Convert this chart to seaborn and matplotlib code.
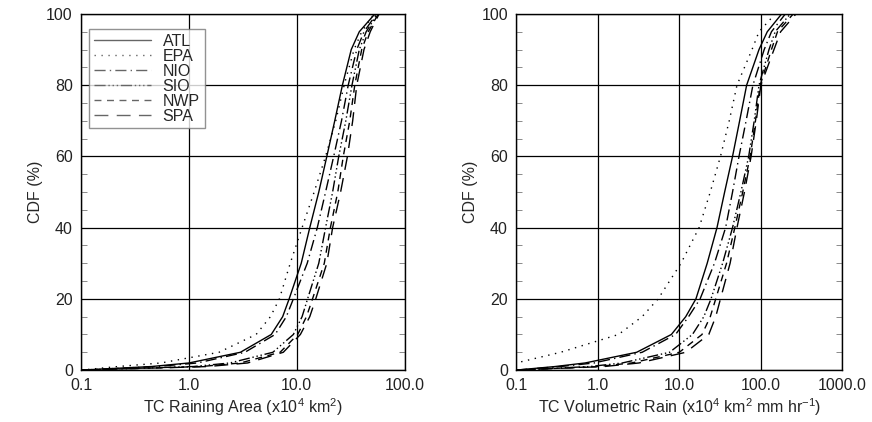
import matplotlib
matplotlib.use("Agg")
import matplotlib.pyplot as plt
from matplotlib.ticker import MultipleLocator
import seaborn as sns
import pandas as pd

# basins and line styles
basins = ["ATL", "EPA", "NIO", "SIO", "NWP", "SPA"]
dash_styles = {"ATL": "", "EPA": (1, 4), "NIO": (8, 3, 1, 3),
               "SIO": (8, 2, 1, 2, 1, 2, 1, 2), "NWP": (5, 4), "SPA": (10, 6)}

# CDF levels (%) and x-values
cdf_levels = [0, 1, 2, 5, 10, 15, 20, 30, 40, 50, 60, 70, 80, 90, 95, 100, 100]

# TC raining area (x10^4 km^2)
area_atl = [0.1, 0.45, 1.0, 3.0, 5.8, 7.4, 8.5, 11.0, 13.2, 16.0, 19.0, 22.5, 26.5, 32.0, 38.0, 53.0, 68.0]
area_epa = [0.1, 0.22, 0.55, 1.9, 4.2, 5.7, 6.9, 8.7, 11.2, 14.5, 18.5, 23.0, 27.5, 34.0, 40.0, 52.0, 68.0]
area_nio = [0.1, 0.5, 1.2, 3.3, 6.3, 8.0, 9.3, 12.5, 15.5, 18.5, 22.0, 26.0, 30.0, 36.0, 42.0, 55.0, 68.0]
area_sio = [0.1, 1.1, 2.4, 6.0, 9.3, 11.2, 12.6, 16.0, 18.5, 21.5, 24.5, 28.5, 32.5, 38.0, 44.0, 56.0, 68.0]
area_nwp = [0.1, 1.3, 3.0, 7.0, 10.2, 12.3, 14.0, 18.0, 20.5, 24.0, 27.0, 31.0, 34.5, 40.0, 46.0, 57.0, 68.0]
area_spa = [0.1, 1.5, 3.5, 7.5, 10.8, 13.2, 15.0, 19.0, 21.5, 25.5, 29.5, 33.0, 36.0, 42.0, 48.0, 58.0, 68.0]

# TC volumetric rain (x10^4 km^2 mm/hr)
vol_atl = [0.1, 0.3, 0.7, 3.0, 8.0, 12, 16, 22, 29, 36, 45, 55, 67, 95, 120, 180, 400]
vol_epa = [0.02, 0.05, 0.1, 0.35, 1.8, 3.5, 5.5, 10.5, 17.5, 24, 32, 41, 51, 78, 95, 150, 400]
vol_nio = [0.1, 0.35, 0.9, 3.5, 9.0, 13, 18, 27, 37, 45, 54, 66, 80, 110, 135, 200, 400]
vol_sio = [0.1, 0.8, 2.0, 7.6, 14.5, 20, 24.5, 34, 45, 57, 71, 83, 95, 126, 150, 230, 400]
vol_nwp = [0.1, 1.0, 2.6, 10, 19, 24, 28, 38, 48, 60, 74, 86, 98, 135, 160, 250, 400]
vol_spa = [0.1, 1.2, 3.2, 12, 23, 28, 32, 42, 51, 63, 76, 88, 100, 145, 175, 270, 400]

area_ticks = [0.1, 1.0, 10.0, 100.0]
area_ticklabels = ["0.1", "1.0", "10.0", "100.0"]
vol_ticks = [0.1, 1.0, 10.0, 100.0, 1000.0]
vol_ticklabels = ["0.1", "1.0", "10.0", "100.0", "1000.0"]


def make_df(series):
    rows = []
    for name, xs in zip(basins, series):
        for x, c in zip(xs, cdf_levels):
            rows.append({"basin": name, "x": x, "cdf": c})
    return pd.DataFrame(rows)


df_area = make_df([area_atl, area_epa, area_nio, area_sio, area_nwp, area_spa])
df_vol = make_df([vol_atl, vol_epa, vol_nio, vol_sio, vol_nwp, vol_spa])

sns.set_style("white")
plt.rcParams["font.family"] = ["Liberation Sans", "DejaVu Sans"]
plt.rcParams["mathtext.default"] = "regular"

fig = plt.figure(figsize=(8.72, 4.22), dpi=100)
ax1 = fig.add_axes([0.093, 0.123, 0.371, 0.844])
ax2 = fig.add_axes([0.592, 0.123, 0.374, 0.844])


def draw(ax, df, ticks, ticklabels, xlim, xlabel, legend):
    sns.lineplot(data=df, x="x", y="cdf", style="basin", dashes=dash_styles,
                 color="black", linewidth=1.0, estimator=None, sort=False,
                 legend=legend, ax=ax)
    ax.set_xscale("log")
    ax.set_xlim(*xlim)
    ax.set_ylim(0, 100)
    ax.set_xticks(ticks)
    ax.set_xticklabels(ticklabels)
    ax.xaxis.set_minor_locator(plt.NullLocator())
    ax.set_yticks([0, 20, 40, 60, 80, 100])
    ax.yaxis.set_minor_locator(MultipleLocator(5))
    ax.grid(True, which="major", color="black", linewidth=0.9)
    ax.tick_params(which="major", length=0, labelsize=11.5, pad=6, colors="#222222")
    ax.tick_params(axis="y", which="minor", direction="in", length=4, width=0.6,
                   left=True, right=True, color="#777777")
    for s in ax.spines.values():
        s.set_color("black")
        s.set_linewidth(1.0)
    ax.set_xlabel(xlabel, fontsize=11.5, labelpad=2)
    ax.set_ylabel("CDF (%)", fontsize=11.5, labelpad=2)


draw(ax1, df_area, area_ticks, area_ticklabels, (0.1, 100.0),
     "TC Raining Area (x10$^4$ km$^2$)", True)
draw(ax2, df_vol, vol_ticks, vol_ticklabels, (0.1, 1000.0),
     "TC Volumetric Rain (x10$^4$ km$^2$ mm hr$^{-1}$)", False)

leg = ax1.legend(loc="upper left", bbox_to_anchor=(0.025, 0.958), fontsize=11.5,
                 frameon=True, fancybox=False, edgecolor="#777777",
                 labelspacing=0.0, handlelength=3.6, handletextpad=0.7,
                 borderpad=0.3, borderaxespad=0.0, title=None)
leg.get_frame().set_linewidth(1.0)
for line in leg.get_lines():
    line.set_color("#666666")

fig.savefig("out.png", dpi=100)
